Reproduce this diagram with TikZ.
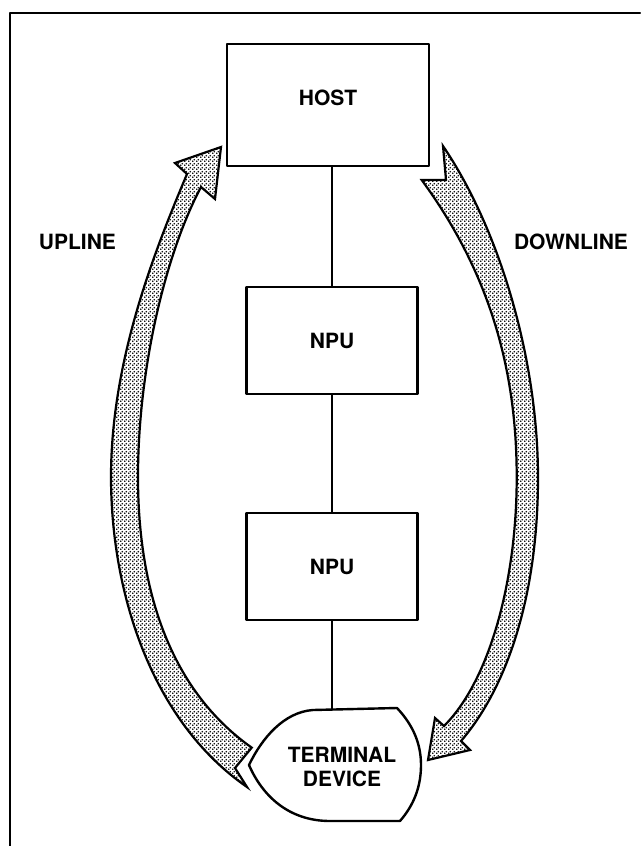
\documentclass[tikz,border=0pt]{standalone}
\usepackage{fontspec}
\setmainfont{TeX Gyre Heros}
\usetikzlibrary{patterns}
\pgfdeclarepatternformonly{dotscreen}{\pgfpointorigin}{\pgfpoint{3.5pt}{3.5pt}}{\pgfpoint{3.5pt}{3.5pt}}{%
  \pgfpathcircle{\pgfpoint{0.875pt}{0.875pt}}{0.95pt}
  \pgfpathcircle{\pgfpoint{2.625pt}{2.625pt}}{0.95pt}
  \pgfusepath{fill}}
\begin{document}
\begin{tikzpicture}[x=1pt, y=-1pt, line join=round, line cap=round,
    font=\fontsize{21}{24}\selectfont\bfseries,
    box/.style={draw, line width=2.6pt, inner sep=0pt, minimum height=107pt},
    link/.style={line width=2.2pt},
    band/.style={draw, line width=2.2pt, line join=miter, pattern=dotscreen}]
  \useasboundingbox (0,0) rectangle (640,846);
  \draw[link] (640,13) -- (10,13) -- (10,846);
  \node[box, minimum width=202pt, minimum height=122pt, text depth=15pt] (host) at (328,105) {HOST};
  \node[box, minimum width=171pt] (npu1) at (332,340.5) {NPU};
  \node[box, minimum width=171pt] (npu2) at (332,566.5) {NPU};
  \coordinate (termtop) at (332,709);
  \draw[link] (npu1.north |- host.south) -- (npu1.north);
  \draw[link] (npu1.south) -- (npu2.north);
  \draw[link] (npu2.south) -- (termtop);
  \draw[band] (247,787) .. controls (150,720) and (111,590) .. (111,477)
    .. controls (111,360) and (155,250) .. (187,174)
    -- (175,163) -- (221,147) -- (215,199) -- (201,187)
    .. controls (165,255) and (138,370) .. (138,477)
    .. controls (138,590) and (170,690) .. (251.7,747.6)
    -- (235,768) -- cycle;
  \draw[band] (443,146) .. controls (500,230) and (538,360) .. (538,477.5)
    .. controls (538,600) and (505,690) .. (461,741)
    -- (470,750) -- (428,760) -- (435,718) -- (444,726)
    .. controls (490,680) and (516.7,580) .. (516.7,477.5)
    .. controls (516.7,380) and (495,280) .. (421.7,180)
    -- (446,180) -- cycle;
  \draw[line width=2.4pt, fill=white] (249,765) .. controls (262,738) and (284,712) .. (313,710)
    -- (397,708) .. controls (414,726) and (421,745) .. (421,765)
    .. controls (421,788) and (413,806) .. (400,821) -- (330,821)
    .. controls (288,821) and (262,795) .. (249,765) -- cycle;
  \node[align=center] (term) at (342,767) {TERMINAL\\DEVICE};
  \node (upl) at (77.5,242) {UPLINE};
  \node (dnl) at (571,242) {DOWNLINE};
\end{tikzpicture}
\end{document}
